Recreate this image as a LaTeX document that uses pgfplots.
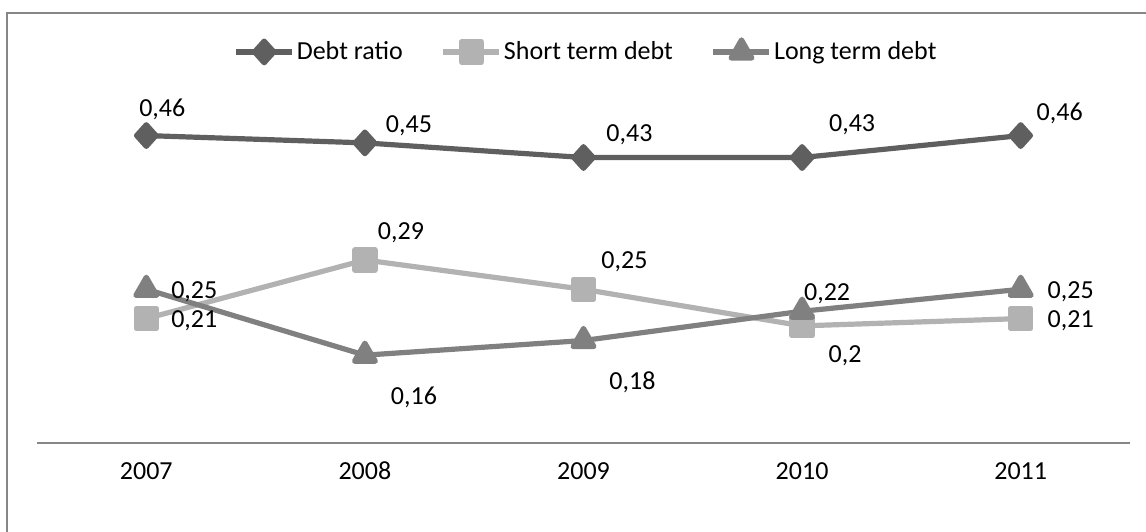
\documentclass[border=0pt]{standalone}
\usepackage{fontspec}
\setmainfont{Carlito}
\usepackage{pgfplots}
\usepackage{pgfplotstable}
\pgfplotsset{compat=1.18}

\definecolor{debtcol}{HTML}{5F5F5F}
\definecolor{shortcol}{HTML}{B2B2B2}
\definecolor{longcol}{HTML}{808080}
\definecolor{framecol}{HTML}{868686}

% year index, ratio, label offset (right, up; in units of 0.5pt)
\pgfplotstableread{
x y dx dy
0 0.46 16 26
1 0.45 44 17
2 0.43 46 23
3 0.43 50 33
4 0.46 39 22
}\debtratio
\pgfplotstableread{
x y dx dy
0 0.21 48 -2
1 0.29 36 27
2 0.25 41 28
3 0.20 43 -30
4 0.21 50 -2
}\shortdebt
\pgfplotstableread{
x y dx dy
0 0.25 48 -2
1 0.16 49 -42
2 0.18 49 -42
3 0.22 25 18
4 0.25 50 -2
}\longdebt

\newcommand\chartfont{\fontsize{13}{15.6}\selectfont}

\begin{document}
\begin{tikzpicture}
\useasboundingbox (0,0) rectangle (573pt,265.5pt);
\draw[framecol, line width=0.6pt] (3.5pt,-2pt) -- (3.5pt,259pt) -- (576pt,259pt);
\begin{axis}[
  at={(18.5pt,44pt)}, anchor=south west,
  scale only axis, width=546.5pt, height=204.96pt,
  xmin=-0.5, xmax=4.5, ymin=0.04, ymax=0.6,
  clip=false,
  axis x line*=bottom, axis y line=none,
  x axis line style={framecol, line width=1pt, -},
  xtick={0,...,4}, xticklabels={2007,2008,2009,2010,2011},
  major tick length=0pt,
  xticklabel style={font=\chartfont, anchor=base, yshift=-18pt},
  ytick=\empty,
  legend columns=3,
  legend style={draw=none, fill=none, at={(axis description cs:0.5023,0.954)},
    anchor=center, font=\chartfont, nodes={inner sep=1pt},
    /tikz/every even column/.append style={column sep=18pt}},
  legend image code/.code={\draw[#1, mark repeat=2, mark phase=2]
    plot coordinates {(0pt,0pt) (14pt,0pt) (28pt,0pt)};},
  nodes near coords={\pgfmathprintnumber[fixed, use comma, assume math mode=true]{\pgfplotspointmeta}},
  visualization depends on={\thisrow{dx} \as \labdx},
  visualization depends on={\thisrow{dy} \as \labdy},
  every node near coord/.append style={font=\chartfont, text=black, anchor=center,
    xshift=\labdx*0.5pt, yshift=\labdy*0.5pt},
]
\addplot[debtcol, line width=2.6pt, line join=round, mark=diamond*, mark size=5.4pt,
  mark options={draw=none, fill=debtcol, xscale=1.2}]
  table[x=x, y=y] {\debtratio};
\addlegendentry{Debt ratio}
\addplot[shortcol, line width=2.6pt, line join=round, mark=square*, mark size=5pt,
  mark options={draw=none, fill=shortcol}]
  table[x=x, y=y] {\shortdebt};
\addlegendentry{Short term debt}
\addplot[longcol, line width=2.6pt, line join=round, mark=triangle*, mark size=6pt,
  mark options={draw=none, fill=longcol}]
  table[x=x, y=y] {\longdebt};
\addlegendentry{Long term debt}
\end{axis}
\end{tikzpicture}
\end{document}
